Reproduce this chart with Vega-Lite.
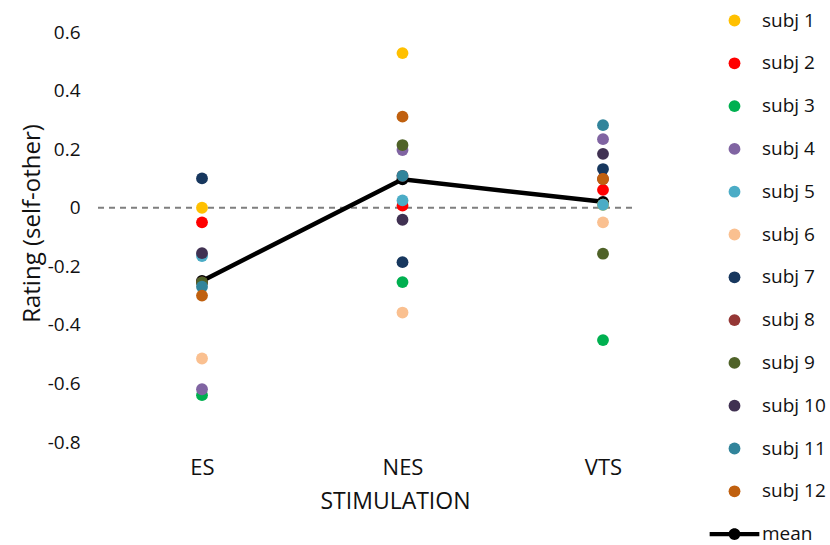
{
  "$schema": "https://vega.github.io/schema/vega-lite/v6.json",
  "autosize": {"type": "none"},
  "padding": {"left": 95, "top": 32, "right": 198, "bottom": 103},
  "width": 537,
  "height": 410,
  "background": "white",
  "config": {
    "view": {"stroke": null},
    "font": "Open Sans",
    "axis": {"labelFont": "Open Sans", "titleFont": "Open Sans", "labelColor": "#111", "titleColor": "#111", "titleFontWeight": "normal", "grid": false, "domain": false, "ticks": false, "tickSize": 0},
    "legend": {"labelFont": "Open Sans", "labelColor": "#111"}
  },
  "datasets": {
    "subjects": [
      {"stim": "ES", "series": "subj 1", "value": 0.0},
      {"stim": "ES", "series": "subj 2", "value": -0.05},
      {"stim": "ES", "series": "subj 3", "value": -0.64},
      {"stim": "ES", "series": "subj 4", "value": -0.62},
      {"stim": "ES", "series": "subj 5", "value": -0.165},
      {"stim": "ES", "series": "subj 6", "value": -0.515},
      {"stim": "ES", "series": "subj 7", "value": 0.1},
      {"stim": "ES", "series": "subj 8", "value": -0.255},
      {"stim": "ES", "series": "subj 9", "value": -0.255},
      {"stim": "ES", "series": "subj 10", "value": -0.155},
      {"stim": "ES", "series": "subj 11", "value": -0.27},
      {"stim": "ES", "series": "subj 12", "value": -0.3},
      {"stim": "NES", "series": "subj 1", "value": 0.528},
      {"stim": "NES", "series": "subj 2", "value": 0.007},
      {"stim": "NES", "series": "subj 3", "value": -0.254},
      {"stim": "NES", "series": "subj 4", "value": 0.197},
      {"stim": "NES", "series": "subj 5", "value": 0.025},
      {"stim": "NES", "series": "subj 6", "value": -0.358},
      {"stim": "NES", "series": "subj 7", "value": -0.186},
      {"stim": "NES", "series": "subj 8", "value": 0.109},
      {"stim": "NES", "series": "subj 9", "value": 0.214},
      {"stim": "NES", "series": "subj 10", "value": -0.041},
      {"stim": "NES", "series": "subj 11", "value": 0.109},
      {"stim": "NES", "series": "subj 12", "value": 0.311},
      {"stim": "VTS", "series": "subj 1", "value": 0.01},
      {"stim": "VTS", "series": "subj 2", "value": 0.061},
      {"stim": "VTS", "series": "subj 3", "value": -0.452},
      {"stim": "VTS", "series": "subj 4", "value": 0.234},
      {"stim": "VTS", "series": "subj 5", "value": 0.01},
      {"stim": "VTS", "series": "subj 6", "value": -0.05},
      {"stim": "VTS", "series": "subj 7", "value": 0.132},
      {"stim": "VTS", "series": "subj 8", "value": 0.098},
      {"stim": "VTS", "series": "subj 9", "value": -0.157},
      {"stim": "VTS", "series": "subj 10", "value": 0.184},
      {"stim": "VTS", "series": "subj 11", "value": 0.282},
      {"stim": "VTS", "series": "subj 12", "value": 0.098}
    ],
    "mean": [
      {"stim": "ES", "series": "mean", "value": -0.25},
      {"stim": "NES", "series": "mean", "value": 0.097},
      {"stim": "VTS", "series": "mean", "value": 0.02}
    ]
  },
  "encoding": {
    "x": {
      "field": "stim", "type": "nominal",
      "scale": {"type": "point", "domain": ["ES", "NES", "VTS"], "range": [107, 508], "padding": 0},
      "axis": {"title": "STIMULATION", "labelAngle": 0, "labelFontSize": 22, "labelPadding": 15, "titleFontSize": 23, "titleX": 300, "titleY": 48, "titleBaseline": "top", "titleAlign": "center"}
    },
    "y": {
      "field": "value", "type": "quantitative",
      "scale": {"domain": [-0.8, 0.6], "nice": false, "zero": false},
      "axis": {"title": "Rating (self-other)", "values": [-0.8, -0.6, -0.4, -0.2, 0, 0.2, 0.4, 0.6], "labelExpr": "toString(round(datum.value*10)/10)", "labelFontSize": 19, "labelPadding": 15, "titleFontSize": 24, "titlePadding": 3, "titleY": 191, "titleAlign": "center"}
    }
  },
  "layer": [
    {
      "data": {"values": [{"zero": 0}]},
      "mark": {"type": "rule", "color": "#7f7f7f", "strokeWidth": 2, "strokeDash": [6, 5]},
      "encoding": {"y": {"field": "zero", "type": "quantitative"}, "x": null}
    },
    {
      "data": {"name": "mean"},
      "mark": {"type": "line", "color": "#000000", "strokeWidth": 4.5},
      "encoding": {}
    },
    {
      "data": {"name": "mean"},
      "mark": {"type": "point", "filled": true, "color": "#000000", "size": 140, "opacity": 1, "shape": "circle"},
      "encoding": {}
    },
    {
      "data": {"name": "subjects"},
      "mark": {"type": "point", "filled": true, "size": 140, "opacity": 1},
      "encoding": {
        "color": {
          "field": "series", "type": "nominal",
          "scale": {
            "domain": ["subj 1", "subj 2", "subj 3", "subj 4", "subj 5", "subj 6", "subj 7", "subj 8", "subj 9", "subj 10", "subj 11", "subj 12", "mean"],
            "range": ["#FFC000", "#FF0000", "#00B050", "#8064A2", "#4BACC6", "#FAC090", "#17375E", "#953735", "#4F6228", "#403152", "#31849B", "#C0600F", "#000000"]
          },
          "legend": {"title": null, "orient": "none", "legendX": 630, "legendY": -21, "labelFontSize": 19, "symbolSize": 140, "rowPadding": 22.8, "labelOffset": 18, "symbolStrokeWidth": 0}
        },
        "shape": {
          "field": "series", "type": "nominal",
          "scale": {
            "domain": ["subj 1", "subj 2", "subj 3", "subj 4", "subj 5", "subj 6", "subj 7", "subj 8", "subj 9", "subj 10", "subj 11", "subj 12", "mean"],
            "range": ["circle", "circle", "circle", "circle", "circle", "circle", "circle", "circle", "circle", "circle", "circle", "circle", "M-4.2,-0.37L4.2,-0.37L4.2,0.37L-4.2,0.37Z M1,0 A1,1 0 1,1 -1,0 A1,1 0 1,1 1,0Z"]
          },
          "legend": {"title": null, "orient": "none", "legendX": 630, "legendY": -21, "labelFontSize": 19, "symbolSize": 140, "rowPadding": 22.8, "labelOffset": 18, "symbolStrokeWidth": 0}
        }
      }
    }
  ]
}
